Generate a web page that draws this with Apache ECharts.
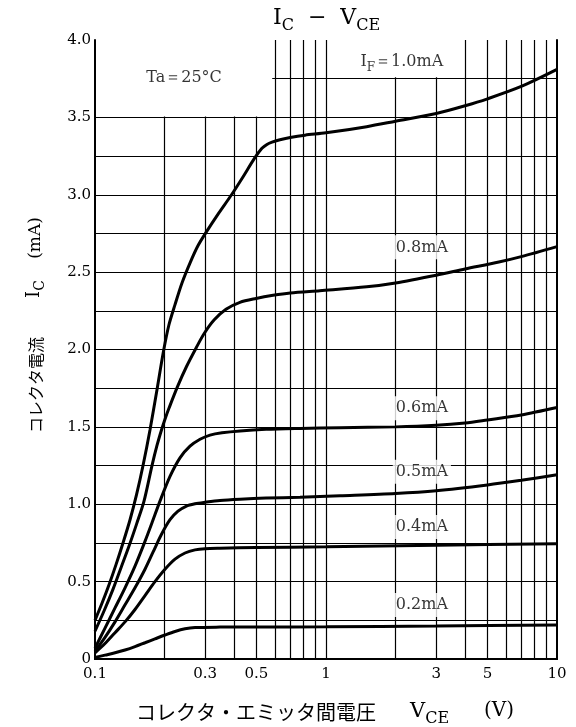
<!DOCTYPE html>
<html><head><meta charset="utf-8">
<script src="https://cdn.jsdelivr.net/npm/echarts@6/dist/echarts.min.js"></script>
<style>html,body{margin:0;padding:0;background:#fff}#c{width:576px;height:727px}</style>
</head><body><div id="c"></div>
<script>
// ---- data (V_CE in V, I_C in mA) ----
const v10 = [0.1, 0.1072, 0.115, 0.1233, 0.1322, 0.1418, 0.1512, 0.1614, 0.173, 0.1855, 0.198, 0.209, 0.222, 0.238, 0.258, 0.279, 0.305, 0.341, 0.39, 0.437, 0.49, 0.528, 0.555, 0.584, 0.632, 0.7, 0.811, 1.0, 1.5, 2, 3, 4, 5, 7, 10];
const i10 = [0.25, 0.36, 0.48, 0.61, 0.75, 0.9, 1.06, 1.25, 1.48, 1.74, 1.99, 2.16, 2.29, 2.43, 2.56, 2.67, 2.765, 2.875, 3.0, 3.115, 3.235, 3.30, 3.325, 3.34, 3.355, 3.37, 3.385, 3.40, 3.44, 3.475, 3.525, 3.575, 3.62, 3.70, 3.81];
const v08 = [0.1, 0.1094, 0.1196, 0.1296, 0.1404, 0.1512, 0.163, 0.1765, 0.1855, 0.194, 0.2009, 0.209, 0.2276, 0.249, 0.274, 0.296, 0.3275, 0.369, 0.424, 0.498, 0.59, 0.7, 0.94, 1.5, 2, 3, 4, 5.6, 7, 10];
const i08 = [0.18, 0.31, 0.45, 0.59, 0.73, 0.87, 1.02, 1.25, 1.38, 1.48, 1.55, 1.62, 1.76, 1.89, 2.01, 2.1, 2.19, 2.26, 2.305, 2.33, 2.35, 2.365, 2.38, 2.405, 2.43, 2.48, 2.52, 2.565, 2.6, 2.665];
const v06 = [0.1, 0.1105, 0.1221, 0.1349, 0.149, 0.1646, 0.1765, 0.1911, 0.2112, 0.2333, 0.2578, 0.2849, 0.3147, 0.3546, 0.4244, 0.55, 0.772, 1.15, 2, 3, 4, 5, 7, 10];
const i06 = [0.07, 0.2, 0.33, 0.46, 0.6, 0.76, 0.88, 1.02, 1.18, 1.3, 1.375, 1.42, 1.447, 1.462, 1.474, 1.484, 1.49, 1.495, 1.50, 1.51, 1.525, 1.545, 1.577, 1.625];
const v05 = [0.1, 0.1105, 0.1221, 0.1349, 0.149, 0.1646, 0.1783, 0.1931, 0.2112, 0.2287, 0.2477, 0.271, 0.2994, 0.3476, 0.424, 0.55, 0.772, 1.15, 2, 3, 5, 7, 10];
const i05 = [0.05, 0.14, 0.24, 0.35, 0.46, 0.58, 0.69, 0.8, 0.9, 0.955, 0.987, 1.003, 1.013, 1.025, 1.033, 1.04, 1.045, 1.055, 1.07, 1.088, 1.125, 1.155, 1.19];
const v04 = [0.1, 0.1105, 0.1221, 0.1349, 0.149, 0.1646, 0.1818, 0.2009, 0.222, 0.2453, 0.271, 0.2994, 0.3476, 0.498, 1.0, 3, 10];
const i04 = [0.04, 0.1, 0.17, 0.24, 0.32, 0.41, 0.5, 0.58, 0.645, 0.685, 0.705, 0.713, 0.716, 0.72, 0.725, 0.735, 0.745];
const v02 = [0.1, 0.1105, 0.1221, 0.1349, 0.149, 0.1646, 0.1818, 0.2009, 0.222, 0.2453, 0.271, 0.3476, 0.498, 1.0, 3, 10];
const i02 = [0.01, 0.025, 0.04, 0.058, 0.08, 0.105, 0.13, 0.155, 0.178, 0.195, 0.203, 0.206, 0.207, 0.208, 0.213, 0.22];

const xTickLabels = [0.1, 0.3, 0.5, 1, 3, 5, 10];
const xGrid = [0.2, 0.3, 0.4, 0.5, 0.6, 0.7, 0.8, 0.9, 1, 2, 3, 4, 5, 6, 7, 8, 9];
const yGrid = [0.25, 0.5, 0.75, 1.0, 1.25, 1.5, 1.75, 2.0, 2.25, 2.5, 2.75, 3.0, 3.25, 3.5, 3.75];

const labelText = ['{r|Ta＝25°C}', '{r|I}{s|F}{r|＝1.0mA}', '{r|0.8mA}', '{r|0.6mA}', '{r|0.5mA}', '{r|0.4mA}', '{r|0.2mA}'];
const labelV = [0.243, 2.13, 2.6, 2.6, 2.6, 2.6, 2.6];
const labelI = [3.755, 3.86, 2.66, 1.62, 1.21, 0.853, 0.349];

const SERIF = '"DejaVu Serif", "Liberation Serif", serif';
const CJK = '"Noto Sans CJK JP", sans-serif';

const curves = [[v10, i10], [v08, i08], [v06, i06], [v05, i05], [v04, i04], [v02, i02]];

const chart = echarts.init(document.getElementById('c'), null, {renderer: 'canvas'});
const axisCommon = {
  axisLine: {show: true, lineStyle: {color: '#000', width: 2}},
  axisTick: {show: false}, splitLine: {show: false}, minorTick: {show: false}, minorSplitLine: {show: false}, z: 10
};
const richTxt = {
  r: {fontFamily: SERIF, fontSize: 16, color: '#000', verticalAlign: 'bottom', padding: [0, 0, 4, 0]},
  s: {fontFamily: SERIF, fontSize: 12, color: '#000', verticalAlign: 'bottom', padding: [0, 0, 0, 0]}
};
const subRich = (big, small, lift) => ({
  r: {fontFamily: SERIF, fontSize: big, color: '#000', verticalAlign: 'bottom', padding: [0, 0, lift, 0]},
  s: {fontFamily: SERIF, fontSize: small, color: '#000', verticalAlign: 'bottom'}
});
const option = {
  animation: false,
  backgroundColor: '#fff',
  title: {
    text: '{m|I}{s|C}{m|  −  V}{s|CE}', left: 268, top: 2,
    textStyle: {rich: {
      m: {fontFamily: SERIF, fontSize: 22, fontWeight: 'normal', color: '#000', verticalAlign: 'bottom', padding: [0, 0, 5, 0]},
      s: {fontFamily: SERIF, fontSize: 16, fontWeight: 'normal', color: '#000', verticalAlign: 'bottom'}
    }}
  },
  grid: {left: 95, right: 19, top: 40, bottom: 68, show: false},
  xAxis: [
    Object.assign({type: 'log', logBase: 10, min: 0.1, max: 10, position: 'bottom',
      axisLabel: {show: true, customValues: xTickLabels, formatter: v => String(+Number(v).toPrecision(6)),
        fontFamily: SERIF, fontSize: 15, color: '#000', margin: 8}}, axisCommon),
    Object.assign({type: 'log', logBase: 10, min: 0.1, max: 10, position: 'top', axisLabel: {show: false}}, axisCommon)
  ],
  yAxis: [
    Object.assign({type: 'value', min: 0, max: 4, interval: 0.5, position: 'left',
      axisLabel: {formatter: v => v === 0 ? '0' : v.toFixed(1), fontFamily: SERIF, fontSize: 15, color: '#000', margin: 4}}, axisCommon),
    Object.assign({type: 'value', min: 0, max: 4, interval: 0.5, position: 'right', axisLabel: {show: false}}, axisCommon)
  ],
  graphic: [
    {type: 'text', x: 36, y: 385, rotation: Math.PI / 2, z: 20,
      style: {text: 'コレクタ電流', align: 'center', verticalAlign: 'middle', fontFamily: CJK, fontSize: 16, fill: '#000'}},
    {type: 'text', x: 36, y: 289, rotation: Math.PI / 2, z: 20,
      style: {text: '{r|I}{s|C}', align: 'center', verticalAlign: 'middle', rich: subRich(18, 14, 4)}},
    {type: 'text', x: 36, y: 238, rotation: Math.PI / 2, z: 20,
      style: {text: '(mA)', align: 'center', verticalAlign: 'middle', fontFamily: SERIF, fontSize: 17, fill: '#000'}},
    {type: 'text', x: 136, y: 712, z: 20,
      style: {text: 'コレクタ・エミッタ間電圧', align: 'left', verticalAlign: 'middle', fontFamily: CJK, fontSize: 20, fill: '#000'}},
    {type: 'text', x: 410, y: 714, z: 20,
      style: {text: '{r|V}{s|CE}', align: 'left', verticalAlign: 'middle', rich: subRich(21, 16, 5)}},
    {type: 'text', x: 484, y: 711, z: 20,
      style: {text: '(V)', align: 'left', verticalAlign: 'middle', fontFamily: SERIF, fontSize: 20, fill: '#000'}}
  ],
  series: [
    {type: 'line', data: [[0.1, 0]], showSymbol: false, lineStyle: {width: 0}, silent: true, z: 1,
      markLine: {z: 1, silent: true, symbol: ['none', 'none'], label: {show: false}, animation: false,
        lineStyle: {color: '#000', width: 1.2, type: 'solid'},
        data: xGrid.map(x => ({xAxis: x})).concat(yGrid.map(y => ({yAxis: y})))}},
    {type: 'line', data: [[0.1, 0]], showSymbol: false, lineStyle: {width: 0}, silent: true, z: 2,
      markArea: {z: 2, silent: true, itemStyle: {color: '#fff', opacity: 1},
        data: [[{coord: [0.1, 3.505]}, {coord: [0.585, 4]}], [{coord: [1.15, 3.76]}, {coord: [3.7, 4]}]]}},
    {type: 'scatter', z: 3, silent: true, symbolSize: 0,
      data: labelV.map((v, k) => ({value: [v, labelI[k]], label: {formatter: labelText[k]}})),
      label: {show: true, position: 'inside', backgroundColor: '#fff', padding: [4, 3, 0, 3], rich: richTxt}}
  ].concat(curves.map(c => ({
    type: 'line', z: 4, showSymbol: false, silent: true, smooth: 0.3,
    lineStyle: {color: '#000', width: 3}, data: c[0].map((v, k) => [v, c[1][k]])
  })))
};
chart.setOption(option);
</script></body></html>
